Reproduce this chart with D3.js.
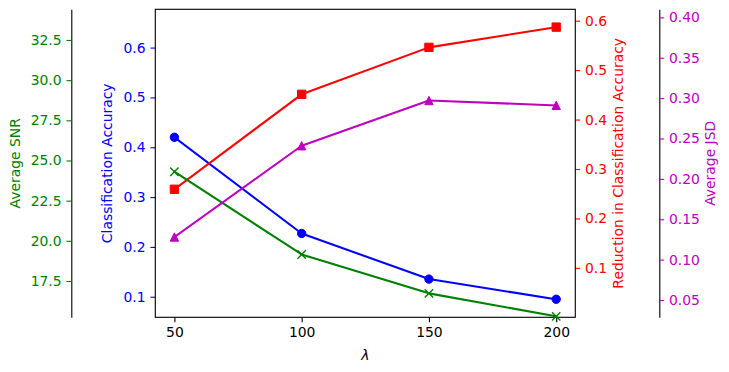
<!DOCTYPE html>
<html>
<head>
<meta charset="utf-8">
<script src="https://cdn.jsdelivr.net/npm/d3@7"></script>
<style>
  body { margin: 0; background: #fff; }
  svg { display: block; font-family: "DejaVu Sans", sans-serif; }
</style>
</head>
<body>
<div id="vis-container"></div>
<script>
// data
var lambdas = [50, 100, 150, 200];
var accuracy = [0.42, 0.227, 0.1355, 0.095];
var reduction = [0.259, 0.451, 0.546, 0.587];
var snr = [24.3, 19.15, 16.73, 15.3];
var jsd = [0.128, 0.241, 0.297, 0.291];

var xTicks = [50, 100, 150, 200];
var accTicks = [0.1, 0.2, 0.3, 0.4, 0.5, 0.6];
var redTicks = [0.1, 0.2, 0.3, 0.4, 0.5, 0.6];
var snrTicks = [17.5, 20.0, 22.5, 25.0, 27.5, 30.0, 32.5];
var jsdTicks = [0.05, 0.10, 0.15, 0.20, 0.25, 0.30, 0.35, 0.40];

(function() {

  // layout ("top" is taken by window, so plot* names)
  var width = 729, height = 372;
  var plotLeft = 155.3, plotRight = 575.3, plotTop = 9.3, plotBottom = 317.3;
  var snrX = 71.3, jsdX = 659.3;
  var tick = 4.86, pad = 4.86;
  var fontSize = 13.9;
  var ms = 4.17; // half marker size

  var cGreen = "#008000", cBlue = "#0000ff", cRed = "#ff0000", cMag = "#bf00bf";

  var svg = d3.select("#vis-container")
    .append("svg")
    .attr("width", width)
    .attr("height", height);

  var x = d3.scaleLinear().domain([42.5, 207.5]).range([plotLeft, plotRight]);
  var yAcc = d3.scaleLinear().domain([0.0588, 0.6768]).range([plotBottom, plotTop]);
  var yRed = d3.scaleLinear().domain([0.0, 0.623]).range([plotBottom, plotTop]);
  var ySnr = d3.scaleLinear().domain([15.24, 34.41]).range([plotBottom, plotTop]);
  var yJsd = d3.scaleLinear().domain([0.0286, 0.41]).range([plotBottom, plotTop]);

  function styleAxis(g, color, keepDomain) {
    g.selectAll("text").attr("fill", color).style("font-size", fontSize + "px")
      .style("font-family", "DejaVu Sans, sans-serif");
    g.selectAll(".tick line").attr("stroke", color).attr("stroke-width", 1.11);
    if (keepDomain) g.select(".domain").attr("stroke", "#000").attr("stroke-width", 1.11);
    else g.select(".domain").remove();
  }

  // x axis
  var xg = svg.append("g").attr("transform", "translate(0," + plotBottom + ")")
    .call(d3.axisBottom(x).tickValues(xTicks).tickSize(tick).tickPadding(pad).tickSizeOuter(0));
  styleAxis(xg, "#000", false);

  // blue axis (left of frame)
  var ag = svg.append("g").attr("transform", "translate(" + plotLeft + ",0)")
    .call(d3.axisLeft(yAcc).tickValues(accTicks).tickFormat(d3.format(".1f")).tickSize(tick).tickPadding(pad).tickSizeOuter(0));
  styleAxis(ag, cBlue, false);

  // red axis (right of frame)
  var rg = svg.append("g").attr("transform", "translate(" + plotRight + ",0)")
    .call(d3.axisRight(yRed).tickValues(redTicks).tickFormat(d3.format(".1f")).tickSize(tick).tickPadding(pad).tickSizeOuter(0));
  styleAxis(rg, cRed, false);

  // green axis, pushed out to the left
  var sg = svg.append("g").attr("transform", "translate(" + snrX + ",0)")
    .call(d3.axisLeft(ySnr).tickValues(snrTicks).tickFormat(d3.format(".1f")).tickSize(tick).tickPadding(pad).tickSizeOuter(0));
  styleAxis(sg, cGreen, true);

  // magenta axis, pushed out to the right
  var jg = svg.append("g").attr("transform", "translate(" + jsdX + ",0)")
    .call(d3.axisRight(yJsd).tickValues(jsdTicks).tickFormat(d3.format(".2f")).tickSize(tick).tickPadding(pad).tickSizeOuter(0));
  styleAxis(jg, cMag, true);

  // frame
  svg.append("rect")
    .attr("x", plotLeft).attr("y", plotTop)
    .attr("width", plotRight - plotLeft).attr("height", plotBottom - plotTop)
    .attr("fill", "none").attr("stroke", "#000").attr("stroke-width", 1.11);

  // axis titles
  function yTitle(cx, text, color) {
    svg.append("text")
      .attr("transform", "translate(" + cx + "," + ((plotTop + plotBottom) / 2) + ") rotate(-90)")
      .attr("text-anchor", "middle")
      .attr("dy", "0.32em")
      .attr("fill", color)
      .style("font-size", fontSize + "px")
      .text(text);
  }
  yTitle(15.5, "Average SNR", cGreen);
  yTitle(107.5, "Classification Accuracy", cBlue);
  yTitle(618.5, "Reduction in Classification Accuracy", cRed);
  yTitle(710.5, "Average JSD", cMag);

  svg.append("text")
    .attr("x", (plotLeft + plotRight) / 2).attr("y", 360)
    .attr("text-anchor", "middle")
    .style("font-size", fontSize + "px")
    .style("font-style", "italic")
    .text("λ");

  // marker shapes, matplotlib style (size 6pt)
  function markerPath(marker) {
    if (marker === "x")
      return "M" + (-ms) + "," + (-ms) + "L" + ms + "," + ms + "M" + (-ms) + "," + ms + "L" + ms + "," + (-ms);
    if (marker === "square")
      return "M" + (-ms) + "," + (-ms) + "H" + ms + "V" + ms + "H" + (-ms) + "Z";
    if (marker === "triangle")
      return "M0," + (-ms) + "L" + ms + "," + ms + "L" + (-ms) + "," + ms + "Z";
    return d3.symbol().type(d3.symbolCircle).size(Math.PI * ms * ms)();
  }

  // series
  function series(values, yscale, color, marker) {
    var pts = lambdas.map(function(l, i) { return [x(l), yscale(values[i])]; });
    svg.append("path")
      .attr("d", d3.line()(pts))
      .attr("fill", "none").attr("stroke", color).attr("stroke-width", 2.08)
      .attr("stroke-linejoin", "round").attr("stroke-linecap", "square");
    svg.append("g").selectAll("path")
      .data(pts)
      .enter()
      .append("path")
      .attr("transform", function(p) { return "translate(" + p[0] + "," + p[1] + ")"; })
      .attr("d", markerPath(marker))
      .attr("fill", marker === "x" ? "none" : color)
      .attr("stroke", color)
      .attr("stroke-width", marker === "x" ? 1.4 : 1);
  }

  series(accuracy, yAcc, cBlue, "circle");
  series(reduction, yRed, cRed, "square");
  series(snr, ySnr, cGreen, "x");
  series(jsd, yJsd, cMag, "triangle");

})();
</script>
</body>
</html>
